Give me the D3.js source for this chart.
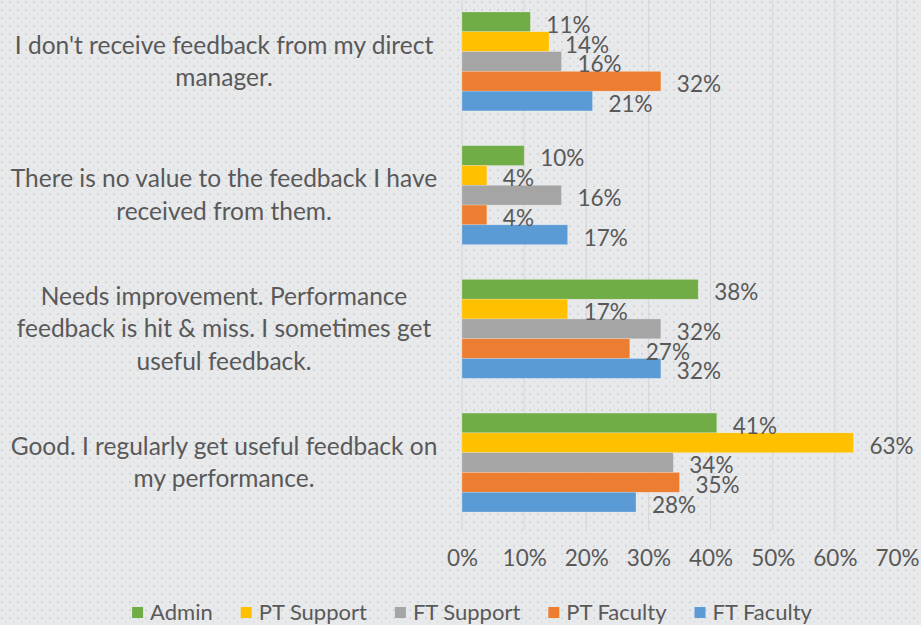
<!DOCTYPE html>
<html>
<head>
<meta charset="utf-8">
<script src="https://cdn.jsdelivr.net/npm/d3@7"></script>
<style>
  html, body { margin: 0; padding: 0; background: #e8e9eb; }
  svg { display: block; }
</style>
</head>
<body>
<svg id="chart"></svg>
<script>
// Données du graphique

const categories = [
  ["I don't receive feedback from my direct", "manager."],
  ["There is no value to the feedback I have", "received from them."],
  ["Needs improvement. Performance", "feedback is hit & miss. I sometimes get", "useful feedback."],
  ["Good. I regularly get useful feedback on", "my performance."],
];
const seriesNames = ["Admin", "PT Support", "FT Support", "PT Faculty", "FT Faculty"];
const seriesColors = ["#70ad47", "#ffc000", "#a5a5a5", "#ed7d31", "#5b9bd5"];

// une liste par série, dans l'ordre des catégories
const admin = [0.11, 0.10, 0.38, 0.41];
const ptSupport = [0.14, 0.04, 0.17, 0.63];
const ftSupport = [0.16, 0.16, 0.32, 0.34];
const ptFaculty = [0.32, 0.04, 0.27, 0.35];
const ftFaculty = [0.21, 0.17, 0.32, 0.28];
const seriesValues = [admin, ptSupport, ftSupport, ptFaculty, ftFaculty];

const xTicks = [0, 0.1, 0.2, 0.3, 0.4, 0.5, 0.6, 0.7];

const width = 921;
const height = 625;
const textColor = "#595959";
const font = "Lato, 'Liberation Sans', sans-serif";

const svg = d3.select("#chart").attr("width", width).attr("height", height);

// Fond à pois
const defs = svg.append("defs");
const pattern = defs
  .append("pattern")
  .attr("id", "dots")
  .attr("width", 8)
  .attr("height", 8)
  .attr("patternUnits", "userSpaceOnUse");
pattern.append("rect").attr("width", 8).attr("height", 8).attr("fill", "#e8e9eb");
pattern.append("rect").attr("x", 1).attr("y", 1).attr("width", 2).attr("height", 2).attr("fill", "#d5d6d9");
pattern.append("rect").attr("x", 5).attr("y", 5).attr("width", 1.5).attr("height", 1.5).attr("fill", "#dddee1");

svg.append("rect").attr("width", width).attr("height", height).attr("fill", "url(#dots)");

// Échelles
const x = d3.scaleLinear().domain([0, 0.7]).range([462, 897]);

const y = d3
  .scaleBand()
  .domain(d3.range(categories.length))
  .range([-5.4, 529.4])
  .paddingInner(0.26)
  .paddingOuter(0.13);

const ySeries = d3
  .scaleBand()
  .domain(d3.range(seriesNames.length))
  .range([0, y.bandwidth()]);

// Grille verticale
svg
  .append("g")
  .selectAll("line")
  .data(xTicks)
  .enter()
  .append("line")
  .attr("x1", (d) => x(d))
  .attr("x2", (d) => x(d))
  .attr("y1", 0)
  .attr("y2", 530)
  .attr("stroke", "#d4d5d8")
  .attr("stroke-width", 1);

// Barres
const groups = svg
  .append("g")
  .selectAll("g")
  .data(categories)
  .enter()
  .append("g")
  .attr("transform", (d, i) => "translate(0," + y(i) + ")");

groups.each(function (cat, ci) {
  const g = d3.select(this);
  const rows = seriesNames.map((name, si) => ({ si: si, value: seriesValues[si][ci] }));

  g.selectAll("rect")
    .data(rows)
    .enter()
    .append("rect")
    .attr("x", x(0))
    .attr("y", (d) => ySeries(d.si))
    .attr("width", (d) => x(d.value) - x(0))
    .attr("height", ySeries.bandwidth())
    .attr("fill", (d) => seriesColors[d.si])
    .attr("stroke", "rgba(255,255,255,0.35)")
    .attr("stroke-width", 0.6);

  g.selectAll("text.val")
    .data(rows)
    .enter()
    .append("text")
    .attr("class", "val")
    .attr("x", (d) => x(d.value) + 16)
    .attr("y", (d) => ySeries(d.si) + ySeries.bandwidth() / 2 + 3)
    .attr("dy", "0.35em")
    .style("font-family", font)
    .style("font-size", "22.5px")
    .style("fill", textColor)
    .text((d) => d3.format(".0%")(d.value));
});

// Libellés des catégories
const labels = svg
  .append("g")
  .selectAll("text")
  .data(categories)
  .enter()
  .append("text")
  .attr("text-anchor", "middle")
  .style("font-family", font)
  .style("font-size", "24.5px")
  .style("fill", textColor);

labels.each(function (lines, i) {
  const cy = y(i) + y.bandwidth() / 2;
  const lh = 32.5;
  const top = cy - ((lines.length - 1) * lh) / 2;
  d3.select(this)
    .selectAll("tspan")
    .data(lines)
    .enter()
    .append("tspan")
    .attr("x", 224)
    .attr("y", (d, k) => top + k * lh)
    .attr("dy", "0.35em")
    .text((d) => d);
});

// Axe des abscisses
const axis = svg
  .append("g")
  .attr("transform", "translate(0,547)")
  .call(d3.axisBottom(x).tickValues(xTicks).tickFormat(d3.format(".0%")).tickSize(0));
axis.select(".domain").remove();
axis
  .selectAll("text")
  .style("font-family", font)
  .style("font-size", "22.5px")
  .style("fill", textColor);

// Légende
const legend = svg.append("g");
const items = legend
  .selectAll("g")
  .data(seriesNames)
  .enter()
  .append("g");

items
  .append("rect")
  .attr("width", 11)
  .attr("height", 11)
  .attr("y", 607)
  .attr("fill", (d, i) => seriesColors[i]);

items
  .append("text")
  .attr("x", 18)
  .attr("y", 612.5)
  .attr("dy", "0.35em")
  .style("font-family", font)
  .style("font-size", "22px")
  .style("fill", textColor)
  .text((d) => d);

// placement horizontal de la légende
let widths = [];
items.each(function () {
  widths.push(18 + d3.select(this).select("text").node().getComputedTextLength());
});
const gap = 28;
const total = d3.sum(widths) + gap * (widths.length - 1);
let cursor = 472 - total / 2;
items.attr("transform", function (d, i) {
  const t = "translate(" + cursor + ",0)";
  cursor += widths[i] + gap;
  return t;
});
</script>
</body>
</html>
